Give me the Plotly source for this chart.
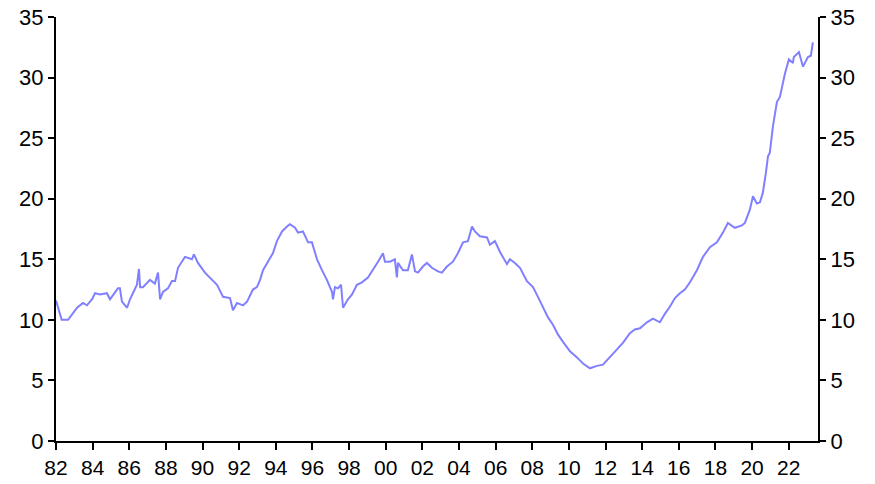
import plotly.graph_objects as go

# Decimal-year positions
years = [1982.00, 1982.31, 1982.66, 1982.93, 1983.15, 1983.47, 1983.69, 1983.97, 1984.13, 1984.40,
         1984.78, 1984.95, 1985.38, 1985.49, 1985.60, 1985.88, 1986.04, 1986.20, 1986.42, 1986.53,
         1986.59, 1986.75, 1987.13, 1987.40, 1987.57, 1987.68, 1987.84, 1988.11, 1988.33, 1988.50,
         1988.66, 1989.04, 1989.42, 1989.53, 1989.75, 1990.13, 1990.52, 1990.79, 1991.12, 1991.50,
         1991.66, 1991.88, 1992.21, 1992.43, 1992.75, 1992.97, 1993.14, 1993.30, 1993.57, 1993.84,
         1994.06, 1994.34, 1994.61, 1994.77, 1995.05, 1995.21, 1995.48, 1995.76, 1995.97, 1996.25,
         1996.52, 1996.79, 1997.07, 1997.12, 1997.23, 1997.39, 1997.56, 1997.67, 1997.94, 1998.16,
         1998.43, 1998.70, 1999.03, 1999.30, 1999.58, 1999.85, 1999.96, 2000.23, 2000.50, 2000.61,
         2000.67, 2000.94, 2001.21, 2001.43, 2001.60, 2001.76, 2002.03, 2002.25, 2002.52, 2002.85,
         2003.07, 2003.34, 2003.67, 2003.94, 2004.22, 2004.49, 2004.71, 2004.87, 2005.14, 2005.53,
         2005.69, 2005.96, 2006.24, 2006.62, 2006.78, 2007.05, 2007.33, 2007.71, 2008.04, 2008.31,
         2008.58, 2008.86, 2009.13, 2009.40, 2009.67, 2010.06, 2010.44, 2010.77, 2011.15, 2011.53,
         2011.86, 2012.24, 2012.62, 2012.95, 2013.33, 2013.60, 2013.88, 2014.26, 2014.59, 2014.97,
         2015.24, 2015.52, 2015.79, 2016.06, 2016.33, 2016.61, 2016.99, 2017.32, 2017.70, 2018.08,
         2018.41, 2018.68, 2019.06, 2019.45, 2019.61, 2019.88, 2020.05, 2020.26, 2020.43, 2020.59,
         2020.76, 2020.87, 2020.97, 2021.14, 2021.36, 2021.52, 2021.79, 2022.01, 2022.23, 2022.28,
         2022.56, 2022.78, 2023.05, 2023.21, 2023.32]

values = [11.6, 10.0, 10.0, 10.6, 11.0, 11.4, 11.2, 11.7, 12.2, 12.1,
          12.2, 11.7, 12.6, 12.6, 11.5, 11.0, 11.7, 12.2, 12.9, 14.2,
          12.7, 12.7, 13.3, 13.0, 13.9, 11.7, 12.3, 12.6, 13.2, 13.2,
          14.3, 15.2, 15.0, 15.4, 14.7, 13.9, 13.3, 12.9, 11.9, 11.8,
          10.8, 11.4, 11.2, 11.5, 12.5, 12.7, 13.3, 14.1, 14.8, 15.5,
          16.5, 17.3, 17.7, 17.9, 17.6, 17.2, 17.3, 16.4, 16.4, 15.0,
          14.1, 13.3, 12.3, 11.7, 12.7, 12.6, 12.9, 11.0, 11.7, 12.1,
          12.9, 13.1, 13.5, 14.1, 14.8, 15.5, 14.8, 14.8, 15.0, 13.5,
          14.7, 14.1, 14.1, 15.4, 14.0, 13.9, 14.4, 14.7, 14.3, 14.0,
          13.9, 14.4, 14.8, 15.5, 16.4, 16.5, 17.7, 17.3, 16.9, 16.8,
          16.2, 16.5, 15.6, 14.6, 15.0, 14.7, 14.3, 13.2, 12.7, 11.9,
          11.0, 10.2, 9.6, 8.8, 8.2, 7.4, 6.9, 6.4, 6.0, 6.2,
          6.3, 6.9, 7.5, 8.1, 8.9, 9.2, 9.3, 9.8, 10.1, 9.8,
          10.5, 11.1, 11.8, 12.2, 12.5, 13.1, 14.1, 15.2, 16.0, 16.4,
          17.2, 18.0, 17.6, 17.8, 18.0, 19.1, 20.2, 19.6, 19.7, 20.5,
          22.2, 23.5, 23.8, 26.0, 28.0, 28.4, 30.3, 31.5, 31.2, 31.7,
          32.1, 30.9, 31.7, 31.8, 32.9]

tick_years = list(range(1982, 2023, 2))
tick_labels = [f"{y % 100:02d}" for y in tick_years]
y_ticks = [0, 5, 10, 15, 20, 25, 30, 35]

fig = go.Figure()
fig.add_trace(go.Scatter(x=years, y=values, mode="lines",
                         line=dict(color="#8080ff", width=2), showlegend=False))
fig.add_trace(go.Scatter(x=years, y=values, mode="lines", yaxis="y2",
                         line=dict(color="rgba(0,0,0,0)", width=0),
                         hoverinfo="skip", showlegend=False))

axis_font = dict(family="Liberation Sans, Arial, sans-serif", size=22, color="black")

fig.update_layout(
    width=875, height=484,
    margin=dict(l=56, r=57, t=17, b=43),
    paper_bgcolor="white", plot_bgcolor="white",
    xaxis=dict(range=[1982, 2023.6], tickvals=tick_years, ticktext=tick_labels,
               showline=True, linecolor="black", linewidth=2, automargin=False,
               ticks="outside", ticklen=7, tickwidth=2, tickcolor="black",
               showgrid=False, zeroline=False,
               tickfont=dict(family="Liberation Sans, Arial, sans-serif", size=21, color="black")),
    yaxis=dict(range=[0, 35], tickvals=y_ticks, automargin=False,
               showline=True, linecolor="black", linewidth=2,
               ticks="outside", ticklen=6, tickwidth=2, tickcolor="black",
               showgrid=False, zeroline=False, tickfont=axis_font),
    yaxis2=dict(range=[0, 35], tickvals=y_ticks, overlaying="y", side="right",
                automargin=False,
                showline=True, linecolor="black", linewidth=2,
                ticks="outside", ticklen=6, tickwidth=2, tickcolor="black",
                showgrid=False, zeroline=False, tickfont=axis_font),
)

fig.write_html("out.html", config={"displayModeBar": False},
               post_script="document.body.style.margin='0px';document.body.style.overflow='hidden';")
